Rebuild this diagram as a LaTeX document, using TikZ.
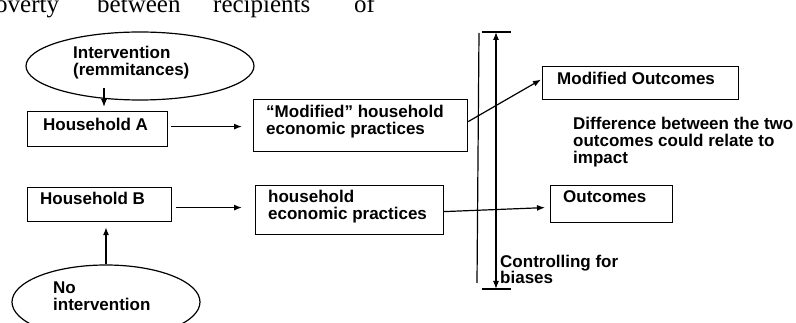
\documentclass[tikz,border=0pt]{standalone}
\usepackage{fontspec}
\setmainfont{Liberation Sans}
\newfontfamily\serifw{Liberation Serif}
\usetikzlibrary{shapes.geometric,arrows.meta,calc}
\tikzset{
  box/.style={draw, line width=1.2pt, rectangle, inner sep=0pt, anchor=north west},
  oval/.style={draw, line width=1.2pt, ellipse, inner sep=0pt},
  lbl/.style={anchor=base west, inner sep=0pt, font=\bfseries\fontsize{17}{17}\selectfont, align=left},
  arr/.style={-{Latex[length=8pt,width=6pt]}, line width=1.2pt},
  plain/.style={line width=1.2pt},
  toptext/.style={anchor=base west, inner sep=0pt, font=\serifw\fontsize{25}{25}\selectfont},
}
\begin{document}
\begin{tikzpicture}[x=1pt,y=-1pt]
\fill[white] (0,0) rectangle (796,323);
\useasboundingbox (0,0) rectangle (796,323);
% cut-off running text at top
\node[toptext] (w1) at (-5,13) {overty};
\node[toptext] (w2) at (97,13) {between};
\node[toptext] (w3) at (213,13) {recipients};
\node[toptext] (w4) at (354,13) {of};
% ellipses
\node[oval, minimum width=228pt, minimum height=68pt] (intv) at (140,66) {};
\node[lbl] (tintv) at (73,76) {Intervention\\(remmitances)};
\node[oval, minimum width=188pt, minimum height=74pt] (ni) at (106,302) {};
\node[lbl] (tni) at (53,311) {No\\intervention};
% boxes
\node[box, minimum width=140pt, minimum height=35pt] (hA) at (27,111) {};
\node[lbl] (thA) at (43,131) {Household A};
\node[box, minimum width=214pt, minimum height=52pt] (mp) at (253,99) {};
\node[lbl] (tmp) at (266,135) {``Modified'' household\\economic practices};
\node[box, minimum width=144pt, minimum height=34pt] (hB) at (27,187) {};
\node[lbl] (thB) at (40,205) {Household B};
\node[box, minimum width=188pt, minimum height=49pt] (pr) at (255,185) {};
\node[lbl] (tpr) at (268,220) {household\\economic practices};
\node[box, minimum width=196pt, minimum height=33pt] (mo) at (542,66) {};
\node[lbl] (tmo) at (557,85) {Modified Outcomes};
\node[box, minimum width=122pt, minimum height=37pt] (oc) at (550,185) {};
\node[lbl] (toc) at (563,203) {Outcomes};
\node[lbl] (tdiff) at (573,164) {Difference between the two\\outcomes could relate to\\impact};
\node[lbl] (tctl) at (500,284) {Controlling for\\biases};
% connectors
\coordinate (i1) at ($(intv.center)+(-36,22)$);
\draw[arr, shorten >=4pt] (i1) -- (i1 |- hA.north);
\coordinate (a1) at ($(hA.east)+(3,-2.5)$);
\draw[arr, shorten >=11pt] (a1) -- (a1 -| mp.west);
\draw[arr] ($(mp.east)+(0,-4)$) -- ($(mo.west)+(-1,-3.5)$);
\coordinate (b1) at ($(hB.east)+(4,3)$);
\draw[arr, shorten >=13pt] (b1) -- (b1 -| pr.west);
\draw[arr] ($(pr.east)+(0,1.5)$) -- ($(oc.west)+(-5,3.5)$);
\draw[arr, shorten >=5pt] (ni.north) -- (ni.north |- hB.south);
% vertical lines
\coordinate (v1t) at (479,33);
\coordinate (v1b) at (477,283);
\draw[plain] (v1t) -- (v1b);
\coordinate (v2t) at (496,32);
\coordinate (v2b) at (496,289);
\draw[plain, {Latex[length=8pt,width=6pt]}-{Latex[length=8pt,width=6pt]}] (v2t) -- (v2b);
\draw[plain] ($(v2t)+(-14,0)$) -- ($(v2t)+(15,0)$);
\draw[plain] ($(v2b)+(-14,0)$) -- ($(v2b)+(15,0)$);
\end{tikzpicture}
\end{document}
